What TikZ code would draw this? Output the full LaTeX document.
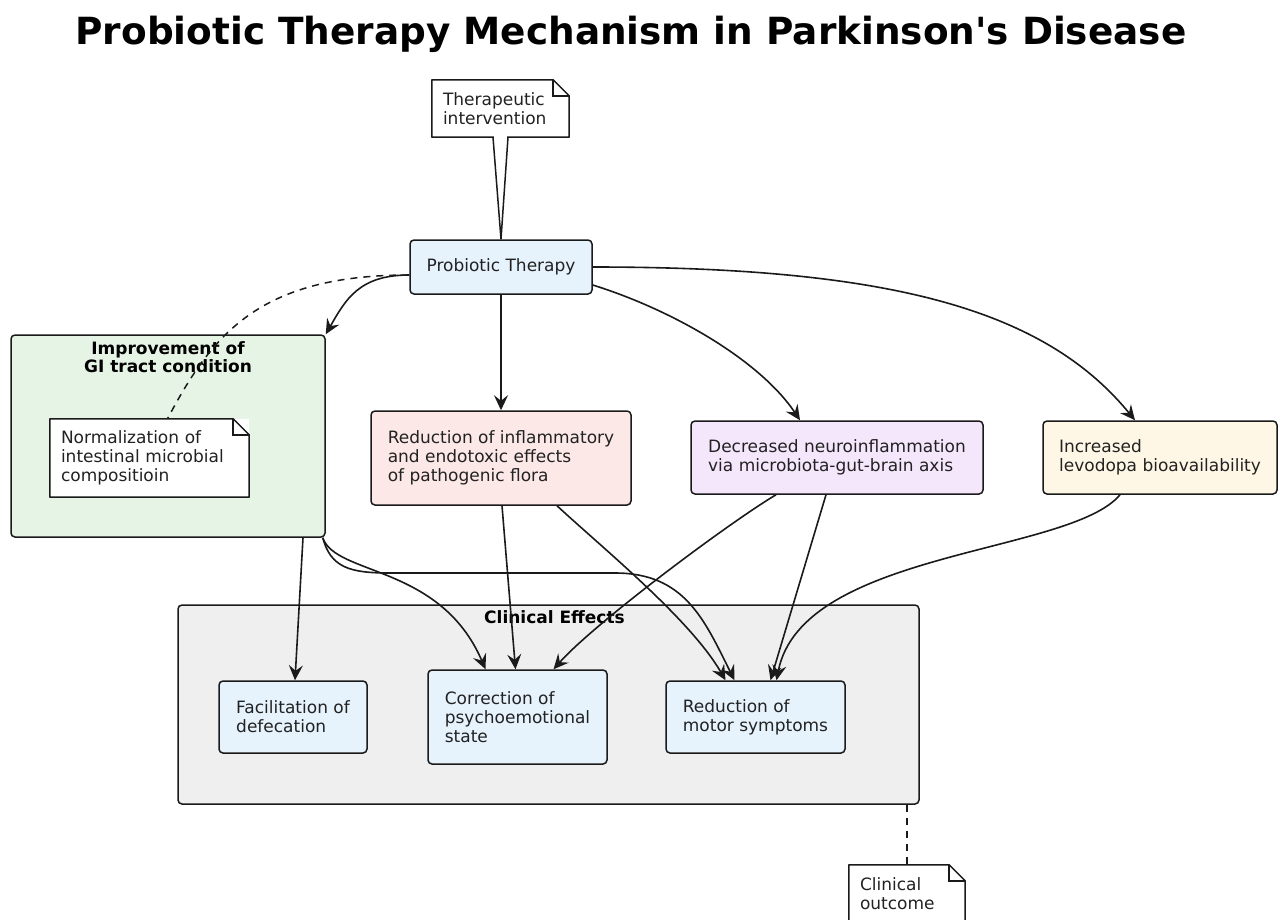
\documentclass[tikz,border=0pt]{standalone}
\usepackage{fontspec}
\setmainfont{DejaVu Sans}[Ligatures=TeXOff]
\usepackage{xcolor}
\usetikzlibrary{arrows.meta}

\definecolor{linec}{HTML}{1A1A1A}
\definecolor{txtc}{HTML}{222222}
\definecolor{boxblue}{HTML}{E6F2FC}
\definecolor{pkggreen}{HTML}{E6F4E6}
\definecolor{pkggray}{HTML}{EFEFEF}
\definecolor{boxred}{HTML}{FDE8E8}
\definecolor{boxpurple}{HTML}{F4E6FB}
\definecolor{boxyellow}{HTML}{FFF7E6}

% note outline with folded corner
\newcommand{\notefold}[1]{%
  \draw[draw=linec, line width=1.5pt, line join=round] (#1.north west) -- ([xshift=-16]#1.north east)
    -- ([yshift=-16]#1.north east) -- (#1.south east) -- (#1.south west) -- cycle;
  \draw[draw=linec, line width=1.5pt] ([xshift=-16]#1.north east) |- ([yshift=-16]#1.north east);}

\begin{document}
\begin{tikzpicture}[x=1pt, y=-1pt, font=\fontsize{17}{19}\selectfont, text=txtc]
    \useasboundingbox (0,0) rectangle (1278,919);

    \node[anchor=base, text=black, font=\fontsize{37.4}{42}\selectfont\bfseries] (T) at (631,44)
        {Probiotic Therapy Mechanism in Parkinson's Disease};

    % packages
    \begin{scope}[every node/.style = {draw=linec, line width=1.5pt, rounded corners=4pt}]
        \node[fill=pkggreen, minimum width=314, minimum height=202] (GI) at (168,436) {};
        \node[fill=pkggray, minimum width=741, minimum height=199] (CE) at (548.5,704.5) {};
    \end{scope}
    \node[anchor=north, align=center, font=\fontsize{17}{18}\selectfont\bfseries, text=black, inner sep=0] (GIt)
        at ([yshift=-7]GI.north) {Improvement of\\GI tract condition};
    \node[anchor=north, font=\fontsize{17}{18}\selectfont\bfseries, text=black, inner sep=0] (CEt)
        at ([xshift=6,yshift=-6]CE.north) {Clinical Effects};

    % boxes
    \begin{scope}[every node/.style = {draw=linec, line width=1.5pt, rounded corners=4pt, align=left, inner sep=0}]
        \node[fill=boxblue, minimum width=182, minimum height=54] (PT) at (501,267) {Probiotic Therapy};
        \node[fill=boxred, minimum width=260, minimum height=94] (RF) at (501,458)
            {Reduction of inflammatory\\and endotoxic effects\\of pathogenic flora};
        \node[fill=boxpurple, minimum width=292, minimum height=73] (NI) at (837,457.5)
            {Decreased neuroinflammation\\via microbiota-gut-brain axis};
        \node[fill=boxyellow, minimum width=234, minimum height=73] (LB) at (1160,457.5)
            {Increased\\levodopa bioavailability};
        \node[fill=boxblue, minimum width=148, minimum height=72] (FD) at (293,717)
            {Facilitation of\\defecation};
        \node[fill=boxblue, minimum width=179, minimum height=94] (CP) at (517.5,717)
            {Correction of\\psychoemotional\\state};
        \node[fill=boxblue, minimum width=179, minimum height=72] (MS) at (755.5,717)
            {Reduction of\\motor symptoms};
    \end{scope}

    % notes
    \begin{scope}[every node/.style = {fill=white, align=left, inner xsep=11pt, inner ysep=0}]
        \node[text width=115, minimum height=57] (TI) at (500.5,108.5) {Therapeutic\\intervention};
        \node[text width=177, minimum height=78] (NM) at (149.5,458)
            {Normalization of\\intestinal microbial\\compositioin};
        \node[text width=94, minimum height=57] (CO) at (907,893.5) {Clinical\\outcome};
    \end{scope}
    \notefold{TI}
    \notefold{NM}
    \notefold{CO}
    \fill[white] ([xshift=-6.5,yshift=1.2]TI.south) -- (PT.north) -- ([xshift=6.5,yshift=1.2]TI.south) -- cycle;
    \draw[draw=linec, line width=1.5pt] ([xshift=-7.5]TI.south) -- (PT.north) -- ([xshift=7.5]TI.south);

    % dashed note links
    \begin{scope}[draw=linec, line width=1.5pt, dash pattern=on 7pt off 6pt]
        \draw ([yshift=-8]PT.west) .. controls +(-150,0) and +(45,-85) .. ([xshift=18]NM.north);
        \draw (CO.north |- CE.south) -- (CO.north);
    \end{scope}

    % effects
    \begin{scope}[>={Stealth[length=15pt, width=14pt, inset=5.5pt]},
                    every edge/.style={draw=linec, line width=1.6pt}]
        \path [->] (RF.north |- PT.south) edge (RF.north);
        \path [->] ([xshift=135]GI.south) edge ([xshift=2]FD.north);
        \path [->] ([xshift=1]RF.south) edge ([xshift=-2]CP.north);
        \path [->] ([xshift=-11]NI.south) edge ([xshift=15]MS.north);
    \end{scope}
    \begin{scope}[>={Stealth[length=15pt, width=14pt, inset=5.5pt]}, draw=linec, line width=1.6pt]
        \draw [->] ([yshift=-8]PT.west) .. controls +(-50,0) and +(20,-35) .. (GI.north east);
        \draw [->] ([yshift=-18]PT.east) .. controls +(80,25) and +(-40,-60) .. ([xshift=-37]NI.north);
        \draw [->] (PT.east) .. controls +(300,0) and +(-90,-110) .. ([xshift=-25]LB.north);
        \draw [->] ([xshift=-3]GI.south east) .. controls +(13,38) and +(-45,-105) .. ([xshift=-32]CP.north);
        \draw [->] ([xshift=-3]GI.south east) .. controls +(8,30) and +(-40,0) .. (390,573) -- (615,573)
            .. controls +(70,0) and +(-30,-60) .. ([xshift=-21]MS.north);
        \draw [->] ([xshift=56]RF.south) .. controls +(43,40) and +(-35,-61) .. ([xshift=-30]MS.north);
        \draw [->] ([xshift=-61]NI.south) .. controls +(-50,30) and +(40,-45) .. ([xshift=36]CP.north);
        \draw [->] ([xshift=-40]LB.south) .. controls +(-50,60) and +(25,-130) .. ([xshift=21]MS.north);
    \end{scope}
\end{tikzpicture}
\end{document}
